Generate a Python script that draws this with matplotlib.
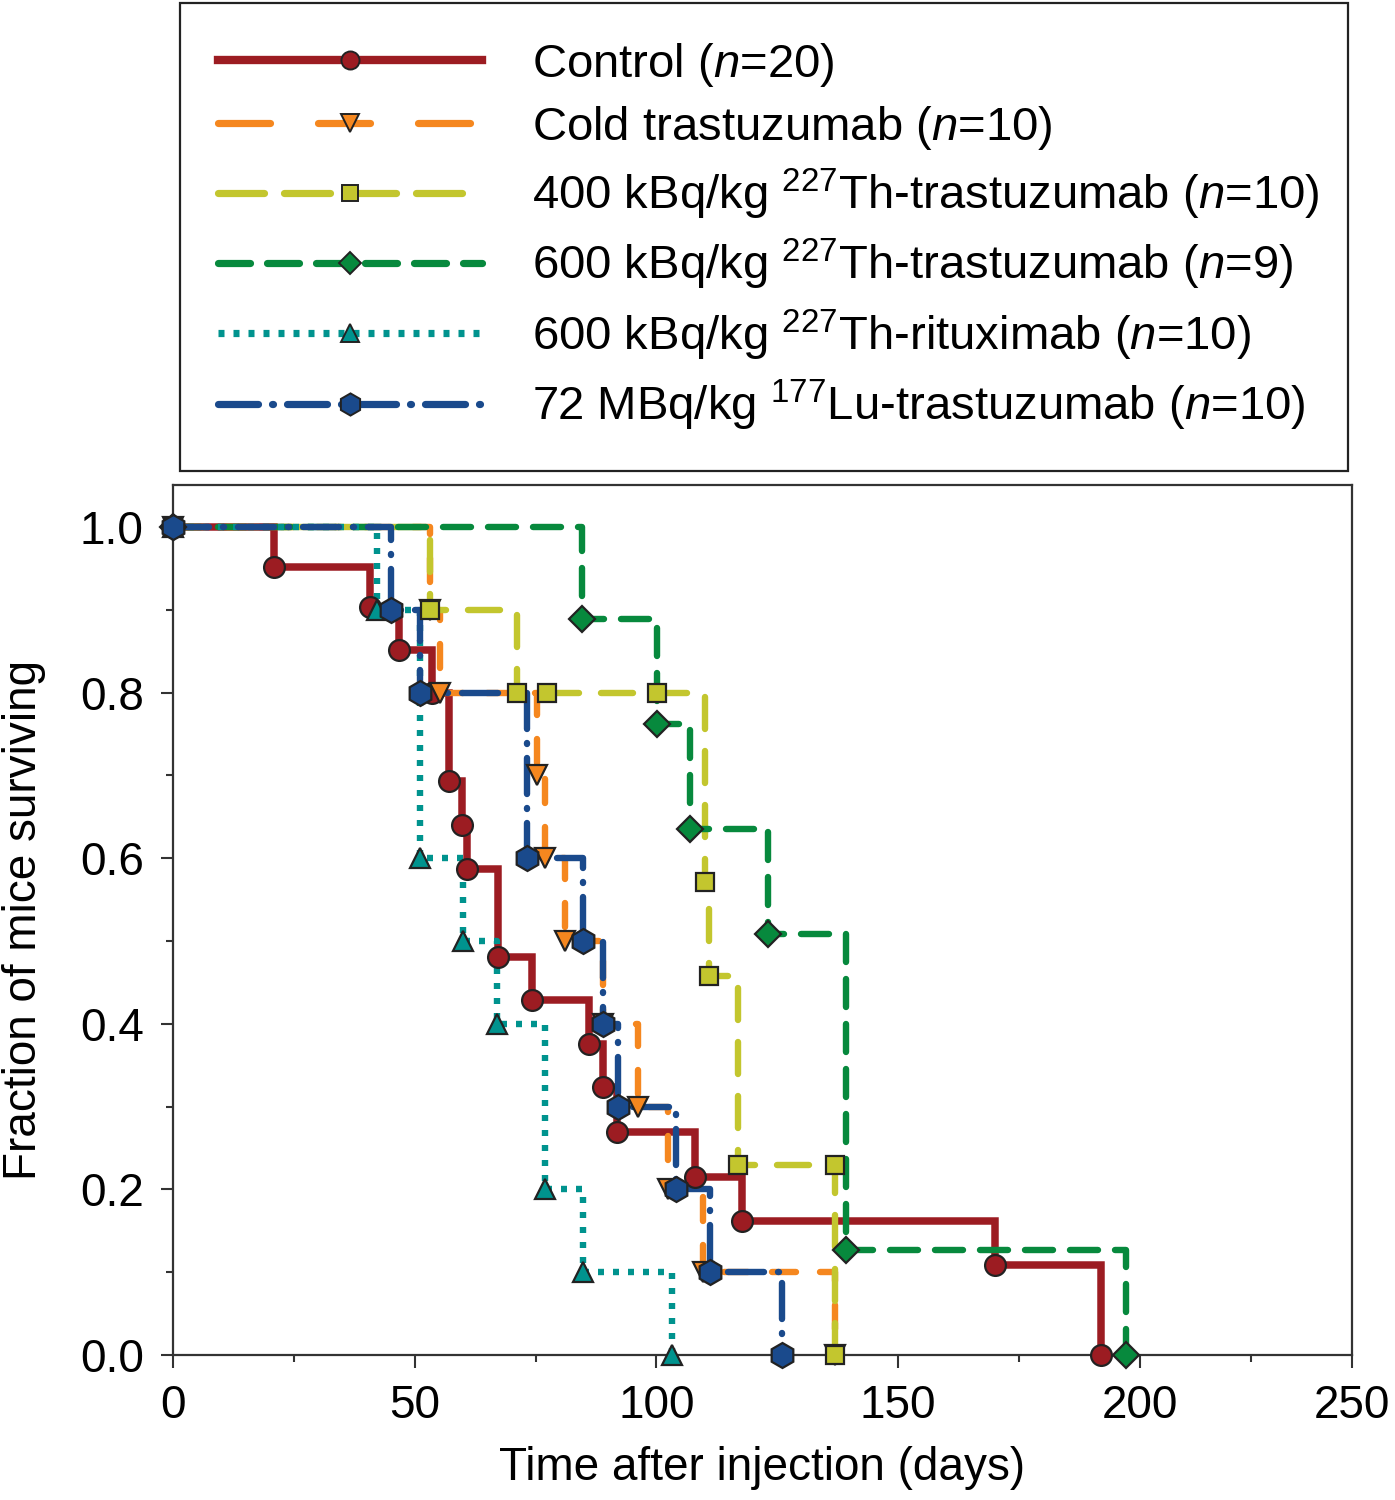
import numpy as np
import matplotlib.pyplot as plt
from matplotlib.lines import Line2D

plt.rcParams['font.family'] = ['Liberation Sans', 'DejaVu Sans']
plt.rcParams['mathtext.fontset'] = 'custom'
plt.rcParams['mathtext.rm'] = 'Liberation Sans'
plt.rcParams['mathtext.it'] = 'Liberation Sans:italic'
plt.rcParams['lines.scale_dashes'] = False

# === DATA ===
# Control
ctrl_t = [0, 20.9, 40.7, 46.7, 53.6, 57.1, 59.8, 60.8, 67.2, 74.3, 86.0, 88.9,
          91.8, 108.0, 117.7, 170.0, 191.9]
ctrl_s = [1.0, 0.952, 0.903, 0.851, 0.80, 0.693, 0.640, 0.587, 0.481, 0.429,
          0.376, 0.324, 0.269, 0.215, 0.162, 0.109, 0.0]

# Cold trastuzumab
cold_t = [0, 53.2, 55.2, 75.3, 76.9, 81.1, 88.9, 96.2, 102.4, 109.6, 136.9]
cold_s = [1.0, 0.9, 0.8, 0.7, 0.6, 0.5, 0.4, 0.3, 0.2, 0.1, 0.0]

# 400 kBq/kg Th-trastuzumab
th400_t = [0, 53.2, 71.1, 110.0, 110.9, 116.9, 136.9]
th400_s = [1.0, 0.9, 0.8, 0.571, 0.458, 0.229, 0.0]
th400_cens_t = [77.4, 100.1, 136.9]
th400_cens_s = [0.8, 0.8, 0.229]

# 600 kBq/kg Th-trastuzumab
th600_t = [0, 84.6, 100.1, 106.9, 123.1, 139.2, 197.2]
th600_s = [1.0, 0.889, 0.762, 0.635, 0.508, 0.127, 0.0]

# 600 kBq/kg Th-rituximab
ritu_t = [0, 42.2, 51.1, 60.0, 67.0, 76.9, 84.8, 103.2]
ritu_s = [1.0, 0.9, 0.6, 0.5, 0.4, 0.2, 0.1, 0.0]

# 72 MBq/kg Lu-trastuzumab
lu_t = [0, 45.1, 51.1, 73.2, 84.8, 88.9, 92.0, 104.0, 111.1, 126.0]
lu_s = [1.0, 0.9, 0.8, 0.6, 0.5, 0.4, 0.3, 0.2, 0.1, 0.0]

labels = [
    r'Control ($\mathit{n}$=20)',
    r'Cold trastuzumab ($\mathit{n}$=10)',
    r'400 kBq/kg $^{227}$Th-trastuzumab ($\mathit{n}$=10)',
    r'600 kBq/kg $^{227}$Th-trastuzumab ($\mathit{n}$=9)',
    r'600 kBq/kg $^{227}$Th-rituximab ($\mathit{n}$=10)',
    r'72 MBq/kg $^{177}$Lu-trastuzumab ($\mathit{n}$=10)',
]

PX = 0.72  # px -> pt at dpi 100

# style per group: colour, marker, marker size, plot dashes, legend dashes
groups = [
    dict(t=ctrl_t, s=ctrl_s, c='#9C1C22', m='o', ms=15, ls='-', lw=5.4,
         lg_ls='-'),
    dict(t=cold_t, s=cold_s, c='#F5871F', m='v', ms=15,
         ls=(0, (24 * PX, 24 * PX)), lw=4.6, lg_ls=(0, (52 * PX, 48 * PX))),
    dict(t=th400_t, s=th400_s, c='#C3C62E', m='s', ms=13.5,
         ls=(0, (32 * PX, 22 * PX)), lw=4.6, lg_ls=(0, (46 * PX, 20 * PX))),
    dict(t=th600_t, s=th600_s, c='#07893D', m='D', ms=13.5,
         ls=(0, (28 * PX, 17 * PX)), lw=4.6, lg_ls=(0, (32 * PX, 17 * PX))),
    dict(t=ritu_t, s=ritu_s, c='#00938E', m='^', ms=15,
         ls=(0, (6 * PX, 9 * PX)), lw=4.6, lg_ls=(0, (6 * PX, 9 * PX))),
    dict(t=lu_t, s=lu_s, c='#1A4A8C', m='h', ms=18,
         ls=(0, (36 * PX, 14 * PX, 1 * PX, 14 * PX)), lw=4.6,
         lg_ls=(0, (40 * PX, 14 * PX, 1 * PX, 14 * PX))),
]

# x axis of the original figure is slightly compressed beyond 200 days
x_knots = [0, 200, 225, 250]
x_pos = [0, 200, 222.9, 243.85]


def fwd(x):
    x = np.asarray(x, dtype=float)
    return np.interp(x, x_knots, x_pos) + \
        np.where(x > 250, (x - 250) * 0.84, 0) + np.where(x < 0, x, 0)


def inv(y):
    y = np.asarray(y, dtype=float)
    return np.interp(y, x_pos, x_knots) + \
        np.where(y > 243.85, (y - 243.85) / 0.84, 0) + np.where(y < 0, y, 0)


fig = plt.figure(figsize=(13.95, 15), dpi=100)
ax = fig.add_axes([173 / 1395, 1 - 1355 / 1500, 1179 / 1395, 870 / 1500])
ax.set_xscale('function', functions=(fwd, inv))

handles = []
for g in groups:
    cap = 'butt' if g['m'] == '^' else 'round'
    ax.step(g['t'], g['s'], where='post', color=g['c'], lw=g['lw'],
            linestyle=g['ls'], dash_capstyle=cap, solid_capstyle='round',
            solid_joinstyle='miter', clip_on=False, zorder=2)
    ax.plot(g['t'], g['s'], linestyle='none', marker=g['m'], ms=g['ms'],
            mfc=g['c'], mec='#222222', mew=1.6, clip_on=False, zorder=3)
    if g['t'] is th400_t:
        ax.plot(th400_cens_t, th400_cens_s, linestyle='none', marker='s',
                ms=g['ms'], mfc=g['c'], mec='#222222', mew=1.6,
                clip_on=False, zorder=3)
    handles.append(Line2D([], [], color=g['c'], lw=g['lw'] + 0.6,
                          linestyle=g['lg_ls'], dash_capstyle=cap,
                          marker=g['m'], ms=g['ms'] - 2, mfc=g['c'],
                          mec='#222222', mew=1.4))

ax.set_xlim(0, 250)
ax.set_ylim(0, 1.0507)
ax.set_xticks([0, 50, 100, 150, 200, 250])
ax.set_xticks([25, 75, 125, 175, 225], minor=True)
ax.set_yticks([0.0, 0.2, 0.4, 0.6, 0.8, 1.0])
ax.set_yticks([0.1, 0.3, 0.5, 0.7, 0.9], minor=True)
ax.set_yticklabels(['0.0', '0.2', '0.4', '0.6', '0.8', '1.0'])
ax.tick_params(which='major', direction='out', length=9, width=1.5,
               labelsize=33, pad=12, color='#333333')
ax.tick_params(which='minor', direction='out', length=5, width=1.5,
               color='#333333')
for sp in ax.spines.values():
    sp.set_linewidth(1.6)
    sp.set_color('#333333')

ax.set_xlabel('Time after injection (days)', fontsize=33)
ax.set_ylabel('Fraction of mice surviving', fontsize=33)
ax.xaxis.set_label_coords(0.5, -0.105)
ax.yaxis.set_label_coords(-0.108, 0.5)

leg = fig.legend(handles, labels, loc='upper left',
                 bbox_to_anchor=(180 / 1395, 1 - 468 / 1500,
                                 1168 / 1395, 465 / 1500),
                 mode='expand', fontsize=34, numpoints=1, handlelength=5.6,
                 handletextpad=1.05, labelspacing=0.32, borderpad=0.8,
                 borderaxespad=0, fancybox=False, framealpha=1)
leg.get_frame().set_edgecolor('#222222')
leg.get_frame().set_linewidth(1.6)

fig.savefig('out.png', dpi=100)
